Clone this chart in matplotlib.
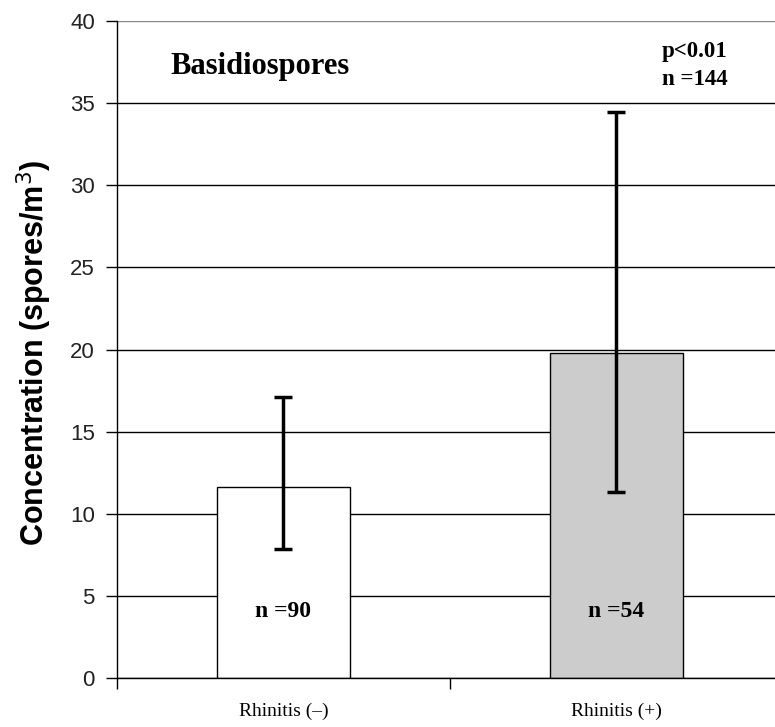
import matplotlib.pyplot as plt

groups = ["Rhinitis (\u2013)", "Rhinitis (+)"]
means = [11.65, 19.8]
upper = [17.1, 34.45]
lower = [7.85, 11.3]
counts = ["n =90", "n =54"]
colors = ["white", "#cccccc"]

serif = ["Liberation Serif", "DejaVu Serif"]
sans = ["Liberation Sans", "DejaVu Sans"]

fig = plt.figure(figsize=(7.75, 7.27), dpi=100)
ax = fig.add_axes([0.151, 0.0674, 0.859, 0.9037])

x = list(range(len(groups)))
err = [[m - lo for m, lo in zip(means, lower)], [up - m for m, up in zip(means, upper)]]

ax.bar(x, means, width=0.4, color=colors, edgecolor="black", linewidth=1, zorder=2)
ax.errorbar(x, means, yerr=err, fmt="none", ecolor="black", elinewidth=2.5,
            capsize=6.5, capthick=2.5, zorder=3)

for xi, c in zip(x, counts):
    ax.text(xi, 3.73, c, ha="center", va="baseline", fontsize=17, fontweight="bold", family=serif)

ax.text(-0.341, 36.8, "Basidiospores", ha="left", va="baseline", fontsize=22,
        fontweight="bold", family=serif)
ax.text(1.137, 37.8, "p<0.01", ha="left", va="baseline", fontsize=16.5, fontweight="bold", family=serif)
ax.text(1.137, 36.1, "n =144", ha="left", va="baseline", fontsize=16.5, fontweight="bold", family=serif)

ax.set_xlim(-0.5, 1.5)
ax.set_ylim(0, 40)
ax.set_yticks(range(0, 41, 5))
ax.yaxis.grid(True, color="black", linewidth=1)
ax.get_ygridlines()[-1].set_color("#888888")
ax.set_axisbelow(True)

ax.set_xticks([-0.5, 0.5, 1.5])
ax.set_xticklabels([])
ax.set_xticks(x, minor=True)
ax.set_xticklabels(groups, minor=True, fontsize=14, family=serif)
ax.tick_params(axis="x", which="minor", length=0, pad=18)
ax.tick_params(axis="x", which="major", length=8, direction="out", width=1)
ax.tick_params(axis="y", length=8, width=1, labelsize=16, pad=8)
for lab in ax.get_yticklabels():
    lab.set_family(sans)
    lab.set_color("#222222")

for s in ["top", "right"]:
    ax.spines[s].set_visible(False)
ax.spines["left"].set_linewidth(1)
ax.spines["bottom"].set_linewidth(1)

ax.set_ylabel("Concentration (spores/m$^3$)", fontsize=22, fontweight="bold", family=sans)
ax.yaxis.set_label_coords(-0.094, 0.495)

fig.savefig("out.png", dpi=100)
